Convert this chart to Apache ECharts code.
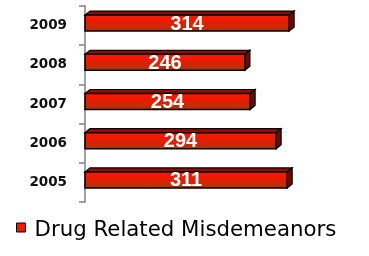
<!DOCTYPE html>
<html><head><meta charset="utf-8">
<script src="https://cdn.jsdelivr.net/npm/echarts@6/dist/echarts.min.js"></script>
<style>html,body{margin:0;padding:0;background:#fff}#c{width:369px;height:256px}</style>
</head><body><div id="c"></div>
<script>
var years = ['2005','2006','2007','2008','2009'];
var values = [311, 294, 254, 246, 314];
var seriesName = 'Drug Related Misdemeanors';

var chart = echarts.init(document.getElementById('c'), null, {renderer:'canvas'});
var frontGrad = function(){
  return new echarts.graphic.LinearGradient(0,0,0,1,[
    {offset:0, color:'#ff1a00'},{offset:0.35, color:'#f01800'},{offset:1, color:'#a8380a'}]);
};
function renderItem(params, api){
  var v = api.value(0), c = api.value(1);
  var p0 = api.coord([0, c]);
  var p1 = api.coord([v, c]);
  var x0 = p0[0], x1 = p1[0], yc = p0[1];
  var top = yc - 10.5, bot = yc + 5.5, dx = 5, dy = 4;
  return {type:'group', children:[
    {type:'polygon', shape:{points:[[x0,top],[x0+dx,top-dy],[x1+dx,top-dy],[x1,top]]},
      style:{fill:'#8c1000', stroke:'#000', lineWidth:1.2}},
    {type:'polygon', shape:{points:[[x1,top],[x1+dx,top-dy],[x1+dx,bot-dy],[x1,bot]]},
      style:{fill:'#6e0a00', stroke:'#000', lineWidth:1.2}},
    {type:'rect', shape:{x:x0,y:top,width:x1-x0,height:bot-top},
      style:{fill:frontGrad(), stroke:'#000', lineWidth:1.5}},
    {type:'text', style:{text:String(v), x:(x0+x1)/2, y:(top+bot)/2+1, align:'center', verticalAlign:'middle',
      fill:'#fff', font:'bold 20px "Liberation Sans", Arial'}}
  ]};
}
chart.setOption({
  animation:false,
  grid:{left:85, right:24, top:6, bottom:54},
  xAxis:{type:'value', min:0, max:400, show:false},
  yAxis:{type:'category', data:years, offset:4,
    axisLine:{show:true, lineStyle:{color:'#808080', width:1.5}},
    axisTick:{show:true, inside:false, length:6, lineStyle:{color:'#808080', width:1.5}},
    axisLabel:{margin:14, color:'#111', fontFamily:'DejaVu Sans', fontWeight:'bold', fontSize:13.5}
  },
  legend:{left:11, top:215, itemWidth:9, itemHeight:15, itemGap:10,
    textStyle:{fontFamily:'DejaVu Sans', fontSize:21.3, color:'#000', padding:[0,0,0,4]},
    data:[{name:seriesName, icon:'path://M0,0L9,0L9,9L0,9Z M0,15L0.01,15', itemStyle:{color:frontGrad(), borderColor:'#000', borderWidth:1}}]
  },
  series:[{type:'custom', name:seriesName, renderItem:renderItem,
    itemStyle:{color:'#ff1a00'},
    encode:{x:0, y:1},
    data: values.map(function(v,i){return [v, i];})
  }]
});
</script></body></html>
